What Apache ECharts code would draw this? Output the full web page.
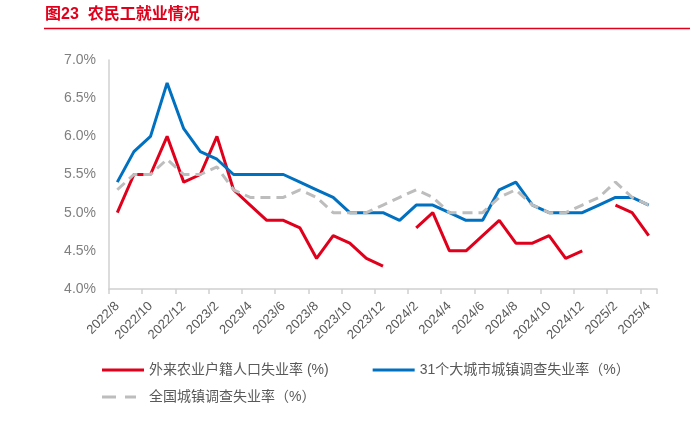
<!DOCTYPE html>
<html>
<head>
<meta charset="utf-8">
<script src="https://cdn.jsdelivr.net/npm/echarts@6/dist/echarts.min.js"></script>
<style>html,body{margin:0;padding:0;background:#fff}#c{width:691px;height:424px}</style>
</head>
<body>
<div id="c"></div>
<script>
var categories = ['2022/8','2022/9','2022/10','2022/11','2022/12','2023/1','2023/2','2023/3','2023/4','2023/5','2023/6','2023/7','2023/8','2023/9','2023/10','2023/11','2023/12','2024/1','2024/2','2024/3','2024/4','2024/5','2024/6','2024/7','2024/8','2024/9','2024/10','2024/11','2024/12','2025/1','2025/2','2025/3','2025/4'];
var migrantRate = [5.0,5.5,5.5,6.0,5.4,5.5,6.0,5.3,5.1,4.9,4.9,4.8,4.4,4.7,4.6,4.4,4.3,null,4.8,5.0,4.5,4.5,4.7,4.9,4.6,4.6,4.7,4.4,4.5,null,5.1,5.0,4.7];
var bigCityRate = [5.4,5.8,6.0,6.7,6.1,5.8,5.7,5.5,5.5,5.5,5.5,5.4,5.3,5.2,5.0,5.0,5.0,4.9,5.1,5.1,5.0,4.9,4.9,5.3,5.4,5.1,5.0,5.0,5.0,5.1,5.2,5.2,5.1];
var nationalRate = [5.3,5.5,5.5,5.7,5.5,5.5,5.6,5.3,5.2,5.2,5.2,5.3,5.2,5.0,5.0,5.0,5.1,5.2,5.3,5.2,5.0,5.0,5.0,5.2,5.3,5.1,5.0,5.0,5.1,5.2,5.4,5.2,5.1];
var seriesNames = ['外来农业户籍人口失业率 (%)','31个大城市城镇调查失业率（%）','全国城镇调查失业率（%）'];
var titleText = '图23  农民工就业情况';

var FONT = '"Liberation Sans", Arial, "Noto Sans CJK SC", sans-serif';
var RED = '#E0001B', BLUE = '#0070C0', GREY = '#BDBDBD';
var chart = echarts.init(document.getElementById('c'), null, {renderer:'canvas'});
chart.setOption({
  animation: false,
  textStyle: {fontFamily: FONT},
  title: {text: titleText, left: 40, top: 2, textStyle: {color: RED, fontSize: 16, fontWeight: 'bold', fontFamily: FONT}},
  graphic: [{type:'line', shape:{x1:44, y1:28.5, x2:690, y2:28.5}, style:{stroke: RED, lineWidth: 1.5}}],
  grid: {left: 109, right: 34, top: 60, bottom: 135, containLabel: false},
  legend: [
    {data: [seriesNames[0], seriesNames[1]], left: 97, top: 358, itemWidth: 42, itemHeight: 14, itemGap: 44,
     textStyle: {fontSize: 14, color: '#595959', fontFamily: FONT}, icon: 'path://M0,6 L44,6 L44,9 L0,9 Z'},
    {data: [{name: seriesNames[2]}], left: 97, top: 385, itemWidth: 34, itemHeight: 14,
     textStyle: {fontSize: 14, color: '#595959', fontFamily: FONT, padding: [0, 0, 0, 8]},
     icon: 'path://M0,6 L14,6 L14,9 L0,9 Z M23,6 L34,6 L34,9 L23,9 Z'}
  ],
  xAxis: {
    type: 'category', data: categories, boundaryGap: true,
    axisLine: {lineStyle: {color: '#D0D0D0', width: 1.5}},
    axisTick: {show: true, interval: 1, length: 5, lineStyle: {color: '#D0D0D0', width: 1.5}},
    axisLabel: {interval: 1, rotate: 45, fontSize: 13, color: '#595959', margin: 15, fontFamily: FONT}
  },
  yAxis: {
    type: 'value', min: 4, max: 7, interval: 0.5,
    axisLine: {show: true, lineStyle: {color: '#D0D0D0', width: 1.5}},
    axisTick: {show: false},
    splitLine: {show: false},
    axisLabel: {fontSize: 14, color: '#7F7F7F', margin: 13, fontFamily: FONT, formatter: function(v){return v.toFixed(1)+'%';}}
  },
  series: [
    {name: seriesNames[0], type: 'line', data: migrantRate, symbol: 'none', connectNulls: false,
     itemStyle: {color: RED}, lineStyle: {color: RED, width: 3}},
    {name: seriesNames[1], type: 'line', data: bigCityRate, symbol: 'none',
     itemStyle: {color: BLUE}, lineStyle: {color: BLUE, width: 3}},
    {name: seriesNames[2], type: 'line', data: nationalRate, symbol: 'none',
     itemStyle: {color: GREY}, lineStyle: {color: GREY, width: 3, type: [10, 6]}}
  ]
});
</script>
</body>
</html>
